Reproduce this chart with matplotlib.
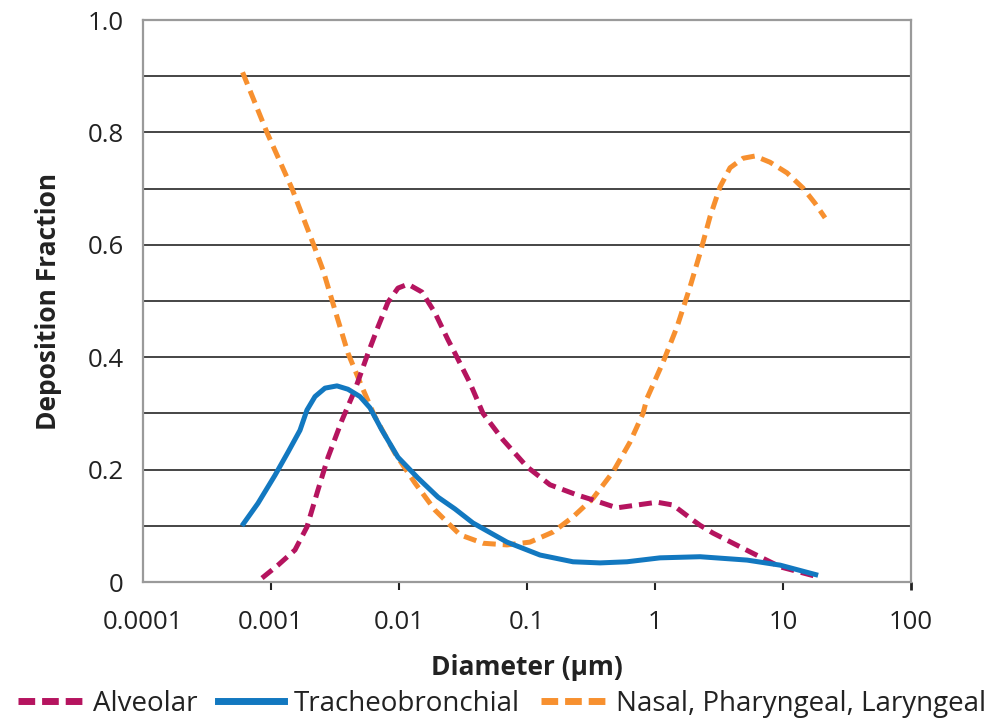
import numpy as np
import matplotlib.pyplot as plt
from matplotlib.lines import Line2D
from matplotlib.ticker import NullLocator

plt.rcParams['font.family'] = ['Open Sans', 'DejaVu Sans']

# values (diameter in um, deposition fraction)
alv_d = [0.000851, 0.001134, 0.00154, 0.00191, 0.00233, 0.00279, 0.003587,
         0.004531, 0.005726, 0.006854, 0.008204, 0.00982, 0.01176, 0.01512,
         0.0191, 0.02414, 0.02738, 0.03587, 0.04532, 0.06494, 0.1, 0.1512,
         0.2458, 0.3278, 0.5047, 0.7234, 1.037, 1.382, 1.981, 2.247, 2.84,
         5.83, 9.5, 18.8]
alv_y = [0.007, 0.03, 0.057, 0.098, 0.164, 0.222, 0.288,
         0.342, 0.407, 0.454, 0.498, 0.523, 0.530, 0.516,
         0.479, 0.431, 0.407, 0.354, 0.30, 0.253, 0.205, 0.173,
         0.155, 0.146, 0.132, 0.137, 0.142, 0.137, 0.11, 0.101, 0.087,
         0.051, 0.027, 0.009]

tb_d = [0.000593, 0.000791, 0.001075, 0.001358, 0.001685, 0.00191, 0.002207,
        0.002642, 0.003278, 0.003996, 0.004958, 0.005934, 0.007365, 0.00982,
        0.01407, 0.02017, 0.02738, 0.03786, 0.06978, 0.1264, 0.2287, 0.3718,
        0.6043, 1.094, 2.247, 5.24, 9.5, 18.8]
tb_y = [0.1, 0.14, 0.19, 0.231, 0.27, 0.306, 0.33,
        0.345, 0.349, 0.343, 0.33, 0.31, 0.27, 0.222,
        0.185, 0.151, 0.13, 0.105, 0.071, 0.048, 0.036, 0.034,
        0.036, 0.043, 0.045, 0.039, 0.03, 0.012]

npl_d = [0.0006, 0.00093, 0.00146, 0.00213, 0.00255, 0.00316, 0.0040, 0.00514,
         0.00649, 0.00931, 0.01334, 0.0191, 0.02595, 0.03, 0.0453, 0.0698,
         0.1055, 0.16, 0.229, 0.328, 0.47, 0.638, 0.806, 0.866, 1.155, 1.486,
         1.877, 2.247, 2.69, 3.219, 3.854, 4.87, 6.04, 7.91, 10.75, 14.33,
         17.78, 21.3]
npl_y = [0.907, 0.80, 0.70, 0.603, 0.555, 0.484, 0.407, 0.347,
         0.294, 0.229, 0.176, 0.128, 0.098, 0.084, 0.069, 0.066,
         0.071, 0.089, 0.116, 0.149, 0.196, 0.249, 0.3, 0.327, 0.391, 0.454,
         0.525, 0.585, 0.65, 0.703, 0.737, 0.754, 0.758, 0.747, 0.728, 0.701,
         0.674, 0.648]

xticks = [0.0001, 0.001, 0.01, 0.1, 1, 10, 100]
xticklabels = ['0.0001', '0.001', '0.01', '0.1', '1', '10', '100']
yticks = [0, 0.2, 0.4, 0.6, 0.8, 1.0]
yticklabels = ['0', '0.2', '0.4', '0.6', '0.8', '1.0']

c_alv = '#b5145f'
c_tb = '#1278c0'
c_npl = '#f7902f'
dash = (2.6, 1.4)

fig = plt.figure(figsize=(10.04, 7.18), dpi=100)
ax = fig.add_axes([0.1424, 0.1894, 0.765, 0.7827])

# horizontal grid every 0.1
for g in np.arange(0.1, 1.0, 0.1):
    ax.axhline(g, color='#262626', lw=1.2, zorder=1)

ax.plot(npl_d, npl_y, color=c_npl, lw=3.6, dashes=dash, zorder=3)
ax.plot(alv_d, alv_y, color=c_alv, lw=3.6, dashes=dash, zorder=4)
ax.plot(tb_d, tb_y, color=c_tb, lw=3.6, zorder=5, solid_capstyle='butt')

ax.set_xscale('log')
ax.set_xlim(0.0001, 100)
ax.set_ylim(0, 1.0)
ax.set_xticks(xticks)
ax.set_xticklabels(xticklabels)
ax.xaxis.set_minor_locator(NullLocator())
ax.set_yticks(yticks)
ax.set_yticklabels(yticklabels)

ax.tick_params(axis='x', length=6, width=1.5, color='#222222', pad=14,
               labelsize=18.5, labelcolor='#222222')
ax.tick_params(axis='y', length=0, pad=14, labelsize=18.5, labelcolor='#222222')
ticks = ax.xaxis.get_major_ticks()
ticks[0].tick1line.set_visible(False)
ticks[-1].tick1line.set_color('#9a9a9a')
ticks[-1].tick1line.set_markeredgewidth(2)

for s in ax.spines.values():
    s.set_color('#9a9a9a')
    s.set_linewidth(1.6)

ax.set_xlabel('Diameter (µm)', fontsize=19, fontweight='bold', color='#222222', labelpad=14)
ax.set_ylabel('Deposition Fraction', fontsize=19, fontweight='bold', color='#222222', labelpad=18)

handles = [Line2D([], [], color=c_alv, lw=5, dashes=(2.4, 1.0)),
           Line2D([], [], color=c_tb, lw=5),
           Line2D([], [], color=c_npl, lw=5, dashes=(2.4, 1.0))]
fig.legend(handles, ['Alveolar', 'Tracheobronchial', 'Nasal, Pharyngeal, Laryngeal'],
           loc='center', bbox_to_anchor=(0.5, 0.02), ncol=3, frameon=False,
           fontsize=20, handlelength=2.35, handletextpad=0.36, columnspacing=0.75,
           borderpad=0.1, borderaxespad=0, labelcolor='#222222')

fig.savefig('out.png', dpi=100, facecolor='white')
